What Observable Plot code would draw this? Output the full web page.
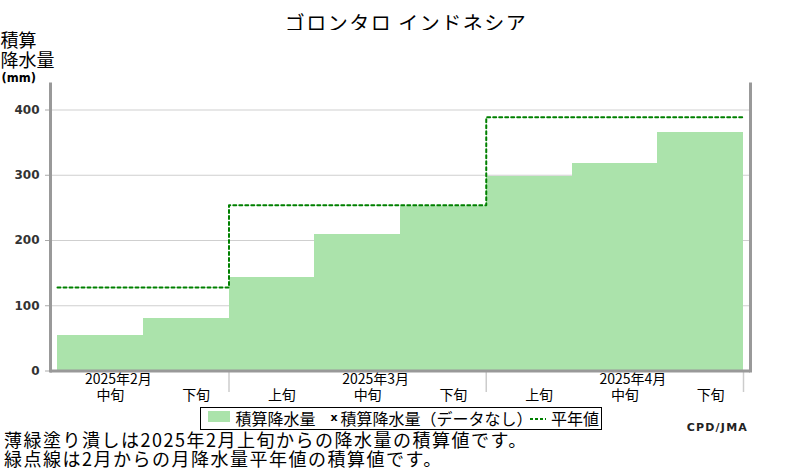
<!DOCTYPE html>
<html><head><meta charset="utf-8">
<script src="https://cdn.jsdelivr.net/npm/d3@7"></script>
<script src="https://cdn.jsdelivr.net/npm/@observablehq/plot@0.6"></script>
<style>
body{margin:0;background:#fff;}
#wrap{position:relative;width:800px;height:470px;overflow:hidden;font-family:"Noto Sans CJK JP",sans-serif;color:#000;background:#fff;}
#title{position:absolute;left:0;top:13px;width:800px;text-align:center;font-size:20px;line-height:20px;padding-left:12px;box-sizing:border-box;letter-spacing:1.5px;}
#chart{position:absolute;left:0;top:30px;}
#legend{position:absolute;left:200px;top:407px;width:402px;height:23px;border:1.5px solid #000;box-sizing:border-box;font-size:16px;line-height:21px;}
#legend .it{position:absolute;top:0;white-space:nowrap;}
#legend .sw{position:absolute;left:6.5px;top:2.5px;width:22px;height:11px;}
#legend .xm{position:absolute;left:129.5px;top:0;font-family:"DejaVu Sans",sans-serif;font-weight:bold;font-size:11px;line-height:19px;}
#legend svg{position:absolute;left:328px;top:9px;}
#cap{position:absolute;left:4px;top:430px;font-size:18px;line-height:19px;letter-spacing:1.5px;white-space:nowrap;}
#src{position:absolute;right:52px;top:421px;font-family:"DejaVu Sans",sans-serif;font-weight:bold;font-size:11px;letter-spacing:1.2px;color:#222;}
</style>
</head><body>
<div id="wrap">
  <div id="title"></div>
  <div id="chart"></div>
  <div id="legend"></div>
  <div id="cap"></div>
  <div id="src"></div>
</div>
<script>
// ---- data ----
const titleText = "ゴロンタロ インドネシア";
const dekadLabels = ["中旬","下旬","上旬","中旬","下旬","上旬","中旬","下旬"];
const precip = [54, 81, 143, 209, 252, 298, 318, 366];
const months = ["2025年2月","2025年3月","2025年4月"];
const monthNormals = [128, 254, 389];
const yTicks = [0, 100, 200, 300, 400];
const yTitle = "積算\n降水量";
const yUnit = "(mm)";
const legendLabels = ["積算降水量", "積算降水量（データなし）", "平年値"];
const captionLines = ["薄緑塗り潰しは2025年2月上旬からの降水量の積算値です。", "緑点線は2月からの月降水量平年値の積算値です。"];
const sourceText = "CPD/JMA";

const barColor = "#abe3ab";
const normColor = "#008000";

// ---- derived tables ----
let m = 0;
const bars = precip.map((v, i) => {
  if (i > 0 && dekadLabels[i] === "上旬") m++;
  return {i, v, label: dekadLabels[i], month: m};
});
const n = bars.length;
const normalPts = bars.map(d => ({x: d.i, y: monthNormals[d.month]}));
normalPts.push({x: n, y: monthNormals[bars[n - 1].month]});
const midBars = bars.filter(d => d.label === "中旬");
const sepTicks = bars.filter(d => d.i > 0 && d.label === "上旬").map(d => d.i).concat([n]);
const pad = 7 / 85.75;

const chart = Plot.plot({
  width: 800,
  height: 377,
  marginLeft: 50,
  marginRight: 50,
  marginTop: 53.4,
  marginBottom: 36.5,
  x: {domain: [-pad, n + pad]},
  y: {domain: [0, 440]},
  style: {fontFamily: "'Noto Sans CJK JP', sans-serif", background: "white", overflow: "visible", color: "#000"},
  marks: [
    Plot.gridY({ticks: yTicks.filter(t => t > 0), stroke: "#cfcfcf", strokeOpacity: 1, strokeWidth: 1.2}),
    Plot.rect(bars, {x1: "i", x2: d => d.i + 1, y1: 0, y2: "v", fill: barColor, shapeRendering: "crispEdges"}),
    Plot.line(normalPts, {x: "x", y: "y", curve: "step-after", stroke: normColor, strokeWidth: 2, strokeDasharray: "3,3"}),
    Plot.axisY({ticks: yTicks, tickSize: 5, tickPadding: 6, stroke: "#aaa", fill: "#333", fontSize: 12, fontWeight: "bold", fontFamily: "DejaVu Sans", label: null}),
    Plot.axisX({ticks: sepTicks, tickSize: 21.5, tickFormat: () => "", stroke: "#ccc", strokeWidth: 1.5, label: null}),
    Plot.text(bars, {x: d => d.i + 0.5, frameAnchor: "bottom", dy: 29, dx: 10, text: "label", fontSize: 14}),
    Plot.text(midBars, {x: d => d.i + 0.5, frameAnchor: "bottom", dy: 12.5, dx: 18, text: d => months[d.month], fontSize: 14}),
    Plot.frame({anchor: "left", stroke: "#999", strokeWidth: 3}),
    Plot.frame({anchor: "right", stroke: "#999", strokeWidth: 3}),
    Plot.ruleY([0], {stroke: "#999", strokeWidth: 3}),
    Plot.text([yTitle], {frameAnchor: "top-left", dx: -50, dy: -50, lineAnchor: "top", textAnchor: "start", fontSize: 18, lineHeight: 1.06, text: d => d}),
    Plot.text([yUnit], {frameAnchor: "top-left", dx: -49, dy: -10.5, textAnchor: "start", fontSize: 11.5, fontWeight: "bold", fontFamily: "DejaVu Sans", text: d => d})
  ]
});
document.getElementById("chart").appendChild(chart);

document.getElementById("title").textContent = titleText;

const lg = document.getElementById("legend");
lg.innerHTML =
  `<div class="sw" style="background:${barColor}"></div>` +
  `<div class="it" style="left:34.5px">${legendLabels[0]}</div>` +
  `<div class="xm">x</div>` +
  `<div class="it" style="left:139.5px">${legendLabels[1]}</div>` +
  `<svg width="18" height="4"><line x1="1" y1="2" x2="17" y2="2" stroke="${normColor}" stroke-width="2" stroke-dasharray="3,2"/></svg>` +
  `<div class="it" style="left:350px">${legendLabels[2]}</div>`;

document.getElementById("cap").innerHTML = captionLines.join("<br>");
document.getElementById("src").textContent = sourceText;
</script>
</body></html>
